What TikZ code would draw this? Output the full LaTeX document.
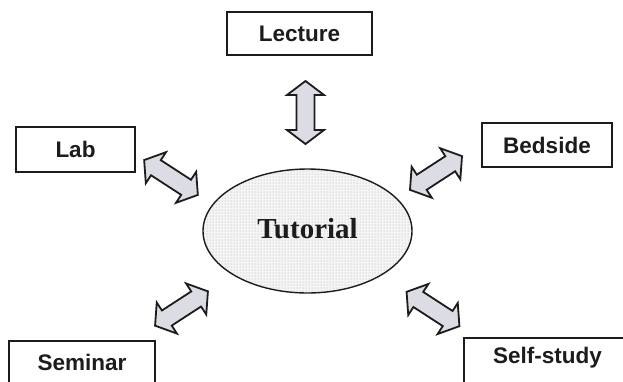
\documentclass[tikz,border=0pt]{standalone}
\usepackage{fontspec}
\setmainfont{Liberation Serif}
\newfontfamily\boxfont{Liberation Sans}
\usetikzlibrary{patterns}
\definecolor{ink}{HTML}{1C1C1C}
\definecolor{arrowfill}{HTML}{DCDDE4}
\tikzset{
  labelbox/.style={draw=ink, line width=1.8pt, fill=white},
  labeltext/.style={font=\boxfont\bfseries\fontsize{22.5}{24}\selectfont, text=ink, inner sep=0pt},
  blockarrow/.style={draw=ink, line width=1.8pt, fill=arrowfill, line join=miter},
}
\newcommand\dblarrow[5]{%
  \begin{scope}[shift={(#2,#3)}, rotate=#4]
    \coordinate (#1) at (0,0);
    \draw[blockarrow] ({-#5/2},0) -- ({-#5/2+14},18.5) -- ({-#5/2+14},9) -- ({#5/2-14},9)
      -- ({#5/2-14},18.5) -- ({#5/2},0) -- ({#5/2-14},-18.5) -- ({#5/2-14},-9)
      -- ({-#5/2+14},-9) -- ({-#5/2+14},-18.5) -- cycle;
  \end{scope}}
\begin{document}
\begin{tikzpicture}[x=1pt, y=-1pt]
\useasboundingbox (0,0) rectangle (623,381);
\clip (0,0) rectangle (623,381);
\fill[white] (0,0) rectangle (623,381);

% boxes
\draw[labelbox] (227,12) rectangle (372,55);
\node[labeltext] (lecture) at (299.5,33.5) {Lecture};
\draw[labelbox] (16,127) rectangle (135,172);
\node[labeltext] (lab) at (75.5,149.5) {Lab};
\draw[labelbox] (482,123) rectangle (612,167);
\node[labeltext] (bedside) at (547,145) {Bedside};
\draw[labelbox] (9,341) rectangle (155,395);
\node[labeltext] (seminar) at (82,362) {Seminar};
\draw[labelbox] (464,338) rectangle (632,395);
\node[labeltext] (selfstudy) at (547.5,358) {Self-study};

% ellipse
\fill[gray!8] (307.5,231) ellipse [x radius=104.5, y radius=62];
\fill[pattern=dots, pattern color=gray!70] (307.5,231) ellipse [x radius=104.5, y radius=62];
\draw[ink, line width=1.4pt] (307.5,231) ellipse [x radius=104.5, y radius=62];
\node[font=\bfseries\fontsize{29}{31}\selectfont, text=ink, inner sep=0pt] (tutorial) at (307.5,229) {Tutorial};

% arrows
\dblarrow{aLecture}{305.5}{112.5}{90}{63}
\dblarrow{aLab}{171}{177.5}{-33}{64}
\dblarrow{aBedside}{436}{173}{33}{62}
\dblarrow{aSeminar}{181.5}{308.5}{33}{63}
\dblarrow{aSelf}{433}{309}{-33}{63}
\end{tikzpicture}
\end{document}
